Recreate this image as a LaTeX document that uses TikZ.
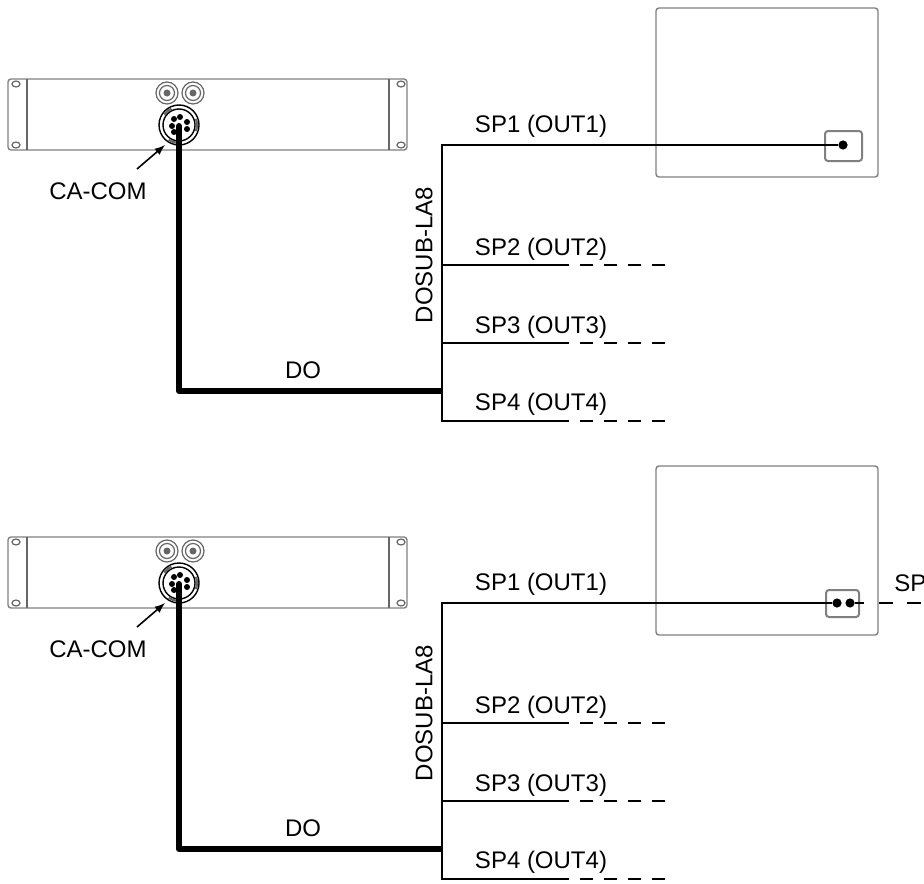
\documentclass[tikz,border=0pt]{standalone}
\usepackage{fontspec}
\setmainfont{Liberation Sans}
\tikzset{
  panel/.style={draw=black!50,line width=0.7pt,rounded corners=1.5pt},
  hole/.style={draw=black!60,line width=0.6pt},
  wire/.style={line width=1.4pt},
  trunk/.style={line width=3pt,line join=round},
  tail/.style={line width=1.4pt,dash pattern=on 6.5pt off 5.5pt},
  lbl/.style={inner sep=0pt,font=\fontsize{12}{14}\selectfont},
  pin/.style={circle,fill=black,inner sep=0pt,minimum size=3pt},
}
\begin{document}
\begin{tikzpicture}[x=0.5pt,y=-0.5pt]
\useasboundingbox (0,0) rectangle (924,883);
\foreach \oy/\n in {0/a,458/b}{
\begin{scope}[shift={(0,\oy)}]
% rack panel
\draw[panel] (8,79) rectangle (407,150);
\draw[hole] (27,79) -- (27,150);
\draw[hole] (389,79) -- (389,150);
\foreach \hx in {16,401}{
  \draw[hole] (\hx,84) ellipse (4 and 3);
  \draw[hole] (\hx,145) ellipse (4 and 3);
}
\foreach \hx in {167,193}{
  \draw[hole] (\hx,93) circle (11);
  \draw[hole] (\hx,93) circle (7.5);
  \fill[black!60] (\hx,93) circle (3.5);
}
% connector
\draw[line width=0.7pt] (179,125) circle (20);
\draw[line width=0.7pt] (179,125) circle (16);
\draw[hole,line width=1.1pt] (179,125) ++(125:18) arc (125:95:18);
\draw[hole,line width=1.1pt] (179,125) ++(215:18) arc (215:245:18);
\draw[hole,line width=1.1pt] (179,125) ++(-20:18) arc (-20:20:18);
\foreach \px/\py in {180/117,174/119,187/122,172/126,187/129,174/132,179/126}{
  \node[pin] at (\px,\py) {};
}
% boxes and labels
\draw[panel] (656,8) rectangle (878,177);
\coordinate (jack\n) at (179,126);
\coordinate (bend\n) at (179,391);
\coordinate (tee\n) at (442,391);
\coordinate (bustop\n) at (442,145);
\coordinate (busend\n) at (442,421);
\coordinate (arrowfrom\n) at (137,169);
\coordinate (arrowto\n) at (165,145);
\node[lbl] (cacom\n) at (98,191) {CA-COM};
\node[lbl] (do\n) at (303,370) {DO};
\node[lbl,rotate=90] (dosub\n) at (424,255) {DOSUB-LA8};
\draw[-latex,line width=0.8pt] (arrowfrom\n) -- (arrowto\n);
\draw[trunk] (jack\n) -- (bend\n) -- (tee\n);
\draw[wire,line cap=rect] (bustop\n) -- (busend\n);
\foreach \k/\ly/\wy in {2/249/265,3/327/343,4/404/421}{
  \node[lbl] (sp\k\n) at (541,\ly) {SP\k\ (OUT\k)};
  \coordinate (stub\k\n) at (442,\wy);
  \coordinate (mid\k\n) at (556,\wy);
  \coordinate (end\k\n) at (665,\wy);
  \draw[wire] (stub\k\n) -- (mid\k\n);
  \draw[tail] (mid\k\n) -- (end\k\n);
}
\node[lbl] (sp1\n) at (541,126) {SP1 (OUT1)};
\end{scope}
}
% first output
\draw[panel,line width=1pt] (825,131) rectangle (862,161);
\node[pin,minimum size=4.6pt] (terma) at (843,145) {};
\draw[wire] (bustopa) -- (terma);
% second output
\draw[panel,line width=1pt] (826,590) rectangle (859,617);
\node[pin,minimum size=4.6pt] (termb) at (837,603) {};
\node[pin,minimum size=4.6pt] (termc) at (850,603) {};
\coordinate (thru) at (864,603);
\coordinate (away) at (924,603);
\draw[wire] (bustopb) -- (termb);
\draw[wire] (termc) -- (thru);
\draw[line width=1.4pt,dash pattern=on 7pt off 7pt] (879,603) -- (away);
\node[lbl,anchor=west] (spout) at (894,583) {SP};
\end{tikzpicture}
\end{document}
